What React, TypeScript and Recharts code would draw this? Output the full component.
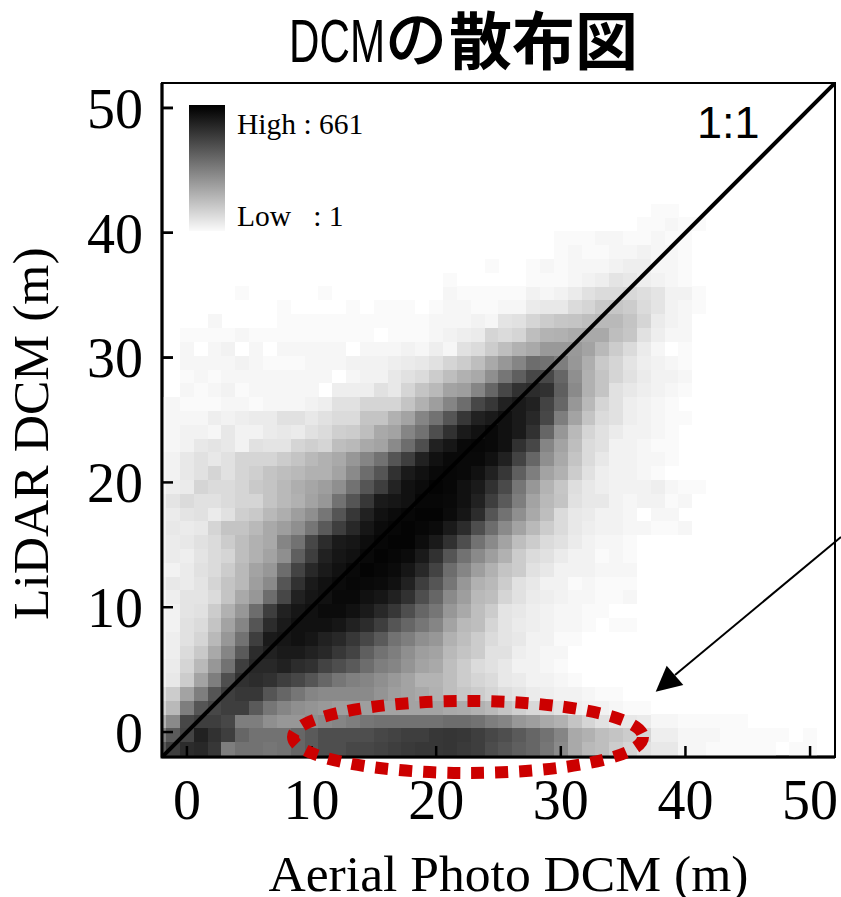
import { Scatter, ScatterChart, XAxis, YAxis } from "recharts";

const xTicks = [0, 10, 20, 30, 40, 50];
const yTicks = [0, 10, 20, 30, 40, 50];
const oneToOne = [
  { x: -2, y: -2 },
  { x: 52, y: 52 },
];

// bin spacing of the 2D histogram (metres)
const xBinStep = 50 / 45;
const yBinStep = 1.106;
const xBinStart = -2 * xBinStep;
const yBinStart = -0.256 - yBinStep;

// darkness of each bin in % of the max count (661), bottom row first, left to right
const densityRows = [
  [60,72,80,82,75,45,50,50,48,50,55,60,65,65,68,68,70,72,74,75,75,76,74,72,66,62,58,55,48,40,28,22,20,15,12,8,6,6,2,2,1,1,1,1,1,0,1,1,0],
  [45,60,70,85,78,72,55,50,50,50,55,60,65,65,65,65,68,70,72,72,75,76,75,72,68,65,60,55,50,42,28,25,20,18,15,12,4,4,2,2,2,1,1,1,1,1,0,1,0],
  [25,40,68,72,72,68,45,45,38,35,35,38,40,42,45,48,50,50,50,50,50,52,52,50,45,42,35,32,28,25,18,12,8,6,6,5,2,2,1,1,1,1,1],
  [12,22,45,62,68,72,72,60,48,42,38,36,34,32,32,32,30,30,30,30,30,28,27,25,22,18,14,11,10,7,4,3,3,2,1,1],
  [8,15,30,45,62,72,75,75,62,55,48,42,40,40,40,40,36,32,30,28,25,20,17,15,12,9,7,5,4,3,3,2,1,1],
  [3,6,15,30,45,65,78,80,78,72,68,62,55,48,44,42,38,34,30,24,24,20,15,12,10,6,5,3,3,2,1],
  [3,5,12,22,35,50,72,82,82,85,80,78,70,65,60,52,45,42,36,30,28,20,15,10,8,6,3,3,2,1],
  [2,4,10,16,28,42,60,80,85,88,88,85,82,75,70,58,50,45,38,32,30,22,18,15,8,8,4,3,2,2],
  [2,4,8,12,22,35,50,72,88,90,92,90,85,82,75,68,60,50,45,38,35,25,20,15,10,7,6,3,3,1,1],
  [2,3,8,10,18,30,42,62,80,88,92,92,92,90,85,80,72,62,55,48,42,30,22,20,12,7,5,4,3,2,2,1,0,1,1],
  [2,3,7,8,15,25,35,52,72,85,90,92,95,95,92,88,82,75,65,55,48,35,28,20,15,7,6,4,3,2,2,1,1],
  [2,4,7,7,10,18,28,35,52,68,85,90,92,96,96,92,90,85,78,65,55,40,32,22,20,12,8,5,4,3,2,2,1,1,2],
  [3,6,5,7,12,18,22,32,40,62,78,88,92,95,97,96,95,92,85,72,62,48,35,25,22,15,8,6,3,3,1,2,1,1,1],
  [2,3,5,8,10,15,22,30,35,52,70,82,88,92,96,98,97,95,90,82,70,52,42,32,25,18,15,8,6,3,3,3,2,2,2],
  [3,5,4,7,10,12,20,25,30,38,58,72,85,90,92,96,98,97,95,88,78,62,50,40,32,25,15,10,8,5,3,3,1,2,1],
  [3,5,6,8,10,15,20,25,28,42,50,68,80,88,90,94,97,98,98,94,88,78,65,50,40,30,20,15,10,8,5,3,2,2,1],
  [3,6,5,6,12,18,18,22,28,32,38,48,60,72,82,90,95,97,98,97,95,88,80,65,52,40,30,22,15,10,6,4,3,3,2,2,1,1,2],
  [3,5,7,8,5,8,14,16,22,26,32,38,48,62,75,85,92,95,97,98,98,95,90,80,62,50,38,28,20,10,6,5,3,3,2,0,2,2],
  [3,7,10,8,8,10,12,12,18,22,25,30,35,50,62,75,88,90,92,97,97,96,92,85,72,60,45,30,22,18,8,6,6,3,2,3,3,1,2],
  [2,4,5,12,10,10,12,16,18,22,26,29,32,38,50,62,72,84,92,95,98,97,92,88,78,67,48,35,24,17,9,6,4,3,3,3,4,2,1,1],
  [2,3,6,8,12,8,12,14,18,20,22,25,25,30,40,52,62,78,88,92,96,97,96,92,85,75,58,45,30,25,15,8,4,3,3,2,1],
  [2,3,6,8,6,8,12,12,12,15,18,22,25,28,35,42,50,62,72,85,92,96,96,96,92,85,70,55,38,28,18,10,6,3,3,2,2,1],
  [1,2,3,6,7,6,3,8,7,7,12,14,12,20,22,28,30,40,52,65,85,90,96,97,96,92,78,68,42,30,20,10,8,3,3,2,1,1],
  [1,2,3,3,2,6,3,3,5,6,5,8,10,14,15,20,28,30,42,50,65,78,88,92,96,92,88,78,55,35,22,12,8,5,3,3,2,1],
  [1,2,2,2,4,3,4,5,5,8,8,6,8,10,10,18,18,25,30,42,50,62,75,85,88,92,88,82,68,45,30,18,10,8,4,3,2,1,1],
  [1,2,1,1,1,2,2,1,2,2,2,3,4,8,8,12,12,12,18,25,32,42,52,68,75,85,88,85,70,55,35,22,12,8,4,3,2,1],
  [0,0,2,1,2,3,1,2,2,2,2,2,0,4,4,4,8,6,12,18,22,30,32,42,55,68,78,80,78,58,40,25,18,8,6,4,3,2,1],
  [0,0,1,2,1,2,2,2,2,2,2,2,2,0,2,3,3,6,8,10,15,20,25,28,38,48,58,68,68,55,38,25,18,12,8,5,3,3,2],
  [0,0,2,2,2,2,3,2,1,1,1,2,2,2,3,3,3,4,5,6,8,12,15,20,28,35,42,52,50,45,35,26,16,12,7,4,3,2,1],
  [0,0,2,0,2,3,0,2,0,2,2,2,2,2,0,2,2,2,3,2,4,2,8,10,15,20,25,28,34,34,34,30,22,15,10,5,2,0,1],
  [0,0,1,1,1,1,2,1,1,1,1,1,1,1,1,1,0,1,1,1,2,3,4,5,12,10,12,20,24,25,27,28,28,20,17,8,4,2,2],
  [0,0,0,0,2,0,0,0,0,1,1,1,1,1,1,1,1,1,1,1,2,2,2,3,2,7,8,12,15,17,18,20,22,22,18,12,5,3,2],
  [0,0,0,0,0,0,0,0,0,1,0,0,0,0,1,0,1,1,1,0,1,2,2,1,1,2,2,5,6,6,10,12,16,17,15,10,7,3,2,1],
  [0,0,0,0,0,0,1,0,0,0,0,0,1,0,0,0,0,0,0,0,0,2,1,1,1,1,1,3,2,3,5,8,10,10,11,9,7,3,3,1],
  [0,0,0,0,0,0,0,0,0,0,0,0,0,0,0,0,0,0,0,0,0,1,0,0,0,0,0,1,1,1,2,3,4,7,6,4,3,2,1],
  [0,0,0,0,0,0,0,0,0,0,0,0,0,0,0,0,0,0,0,0,0,0,0,0,1,0,0,1,2,1,2,2,2,3,4,4,2,2,1],
  [0,0,0,0,0,0,0,0,0,0,0,0,0,0,0,0,0,0,0,0,0,0,0,0,0,0,0,0,0,1,2,1,1,2,2,3,2,2,1],
  [0,0,0,0,0,0,0,0,0,0,0,0,0,0,0,0,0,0,0,0,0,0,0,0,0,0,0,0,0,1,1,1,2,2,1,1,2,1,1],
  [0,0,0,0,0,0,0,0,0,0,0,0,0,0,0,0,0,0,0,0,0,0,0,0,0,0,0,0,0,0,0,0,0,0,0,1,1,2,1,1],
  [0,0,0,0,0,0,0,0,0,0,0,0,0,0,0,0,0,0,0,0,0,0,0,0,0,0,0,0,0,0,0,0,0,0,0,0,1,1],
];

const cells = densityRows.flatMap((row, r) =>
  row.flatMap((density, c) =>
    density > 0
      ? [{ x: xBinStart + c * xBinStep, y: yBinStart + r * yBinStep, density }]
      : [],
  ),
);

function HeatCell(props: any) {
  const { cx, cy, payload } = props;
  const v = Math.round(255 * (1 - Math.pow(payload.density / 100, 0.85)));
  return (
    <rect
      x={cx - 7}
      y={cy - 7}
      width={14}
      height={14}
      fill={`rgb(${v},${v},${v})`}
      shapeRendering="crispEdges"
    />
  );
}

const serif = '"Liberation Serif", serif';
const tickStyle = { fontFamily: serif, fontSize: 56, fill: "#000" };
const titleStyle = { fontFamily: serif, fontSize: 51.6, fill: "#000" };

// plot box, the tick marks sit on top of the heat cells
const plot = { left: 162, top: 83, right: 835, bottom: 757 };
const tickX = (t: number) => plot.left + ((t + 2) / 54) * (plot.right - plot.left);
const tickY = (t: number) => plot.bottom - ((t + 2) / 54) * (plot.bottom - plot.top);

export default function App() {
  return (
    <div style={{ position: "absolute", left: 0, top: 0, width: 841, height: 897 }}>
      <ScatterChart
        width={841}
        height={897}
        margin={{ top: 83, right: 6, bottom: 0, left: 0 }}
      >
        <XAxis
          type="number"
          dataKey="x"
          domain={[-2, 52]}
          ticks={xTicks}
          interval={0}
          allowDataOverflow
          height={140}
          tickSize={-11}
          tickMargin={33}
          tick={tickStyle}
          stroke="#000"
          strokeWidth={2.5}
          label={{
            value: "Aerial Photo DCM (m)",
            position: "insideBottom",
            offset: 6,
            dx: 10,
            style: titleStyle,
          }}
        />
        <YAxis
          type="number"
          dataKey="y"
          domain={[-2, 52]}
          ticks={yTicks}
          interval={0}
          allowDataOverflow
          width={162}
          tickSize={-11}
          tickMargin={30}
          tick={tickStyle}
          stroke="#000"
          strokeWidth={2.5}
          label={{
            value: "LiDAR DCM (m)",
            angle: -90,
            position: "insideLeft",
            offset: 30,
            dy: 200,
            style: titleStyle,
          }}
        />
        <Scatter data={cells} shape={HeatCell} isAnimationActive={false} />
        <Scatter
          data={oneToOne}
          shape={() => null}
          line={{ stroke: "#000", strokeWidth: 4 }}
          isAnimationActive={false}
        />
      </ScatterChart>
      <svg
        width={841}
        height={897}
        style={{ position: "absolute", left: 0, top: 0, pointerEvents: "none" }}
      >
        <defs>
          <linearGradient id="legendRamp" x1="0" y1="0" x2="0" y2="1">
            <stop offset="0" stopColor="#000" />
            <stop offset="0.05" stopColor="#0a0a0a" />
            <stop offset="1" stopColor="#fafafa" />
          </linearGradient>
        </defs>
        <rect x={162} y={83} width={673} height={674} fill="none" stroke="#000" strokeWidth={2} />
        <path d="M162 83V757H835" fill="none" stroke="#000" strokeWidth={3} />
        {xTicks.map((t) => (
          <line key={t} x1={tickX(t)} x2={tickX(t)} y1={plot.bottom} y2={plot.bottom - 11} stroke="#000" strokeWidth={2.5} />
        ))}
        {yTicks.map((t) => (
          <line key={t} x1={plot.left} x2={plot.left + 11} y1={tickY(t)} y2={tickY(t)} stroke="#000" strokeWidth={2.5} />
        ))}
        <rect x={189} y={105} width={36} height={126} fill="url(#legendRamp)" />
        <text x={237} y={134} fontFamily={serif} fontSize={29.5}>High : 661</text>
        <text x={237} y={226} fontFamily={serif} fontSize={29.5} xmlSpace="preserve">Low   : 1</text>
        <text x={697} y={138} fontFamily='"Liberation Sans", sans-serif' fontSize={45}>1:1</text>
        <ellipse
          cx={468}
          cy={737}
          rx={175}
          ry={36}
          fill="none"
          stroke="#cc0000"
          strokeWidth={12}
          strokeDasharray="13 11"
        />
        <line x1={841} y1={537} x2={675} y2={675} stroke="#000" strokeWidth={2} />
        <polygon points="655.7,691.7 666.7,665.7 683.3,685" fill="#000" />
        <text
          x={289}
          y={62}
          fontFamily='"Liberation Sans", sans-serif'
          fontSize={61}
          textLength={96}
          lengthAdjust="spacingAndGlyphs"
        >
          DCM
        </text>
        <text
          x={385}
          y={62}
          fontFamily='"Noto Sans CJK JP", sans-serif'
          fontSize={62}
          stroke="#000"
          strokeWidth={1.5}
        >
          の
        </text>
        <text x={449} y={64} fontFamily='"Noto Sans CJK JP", sans-serif' fontSize={63} fontWeight={700}>散布図</text>
      </svg>
    </div>
  );
}
